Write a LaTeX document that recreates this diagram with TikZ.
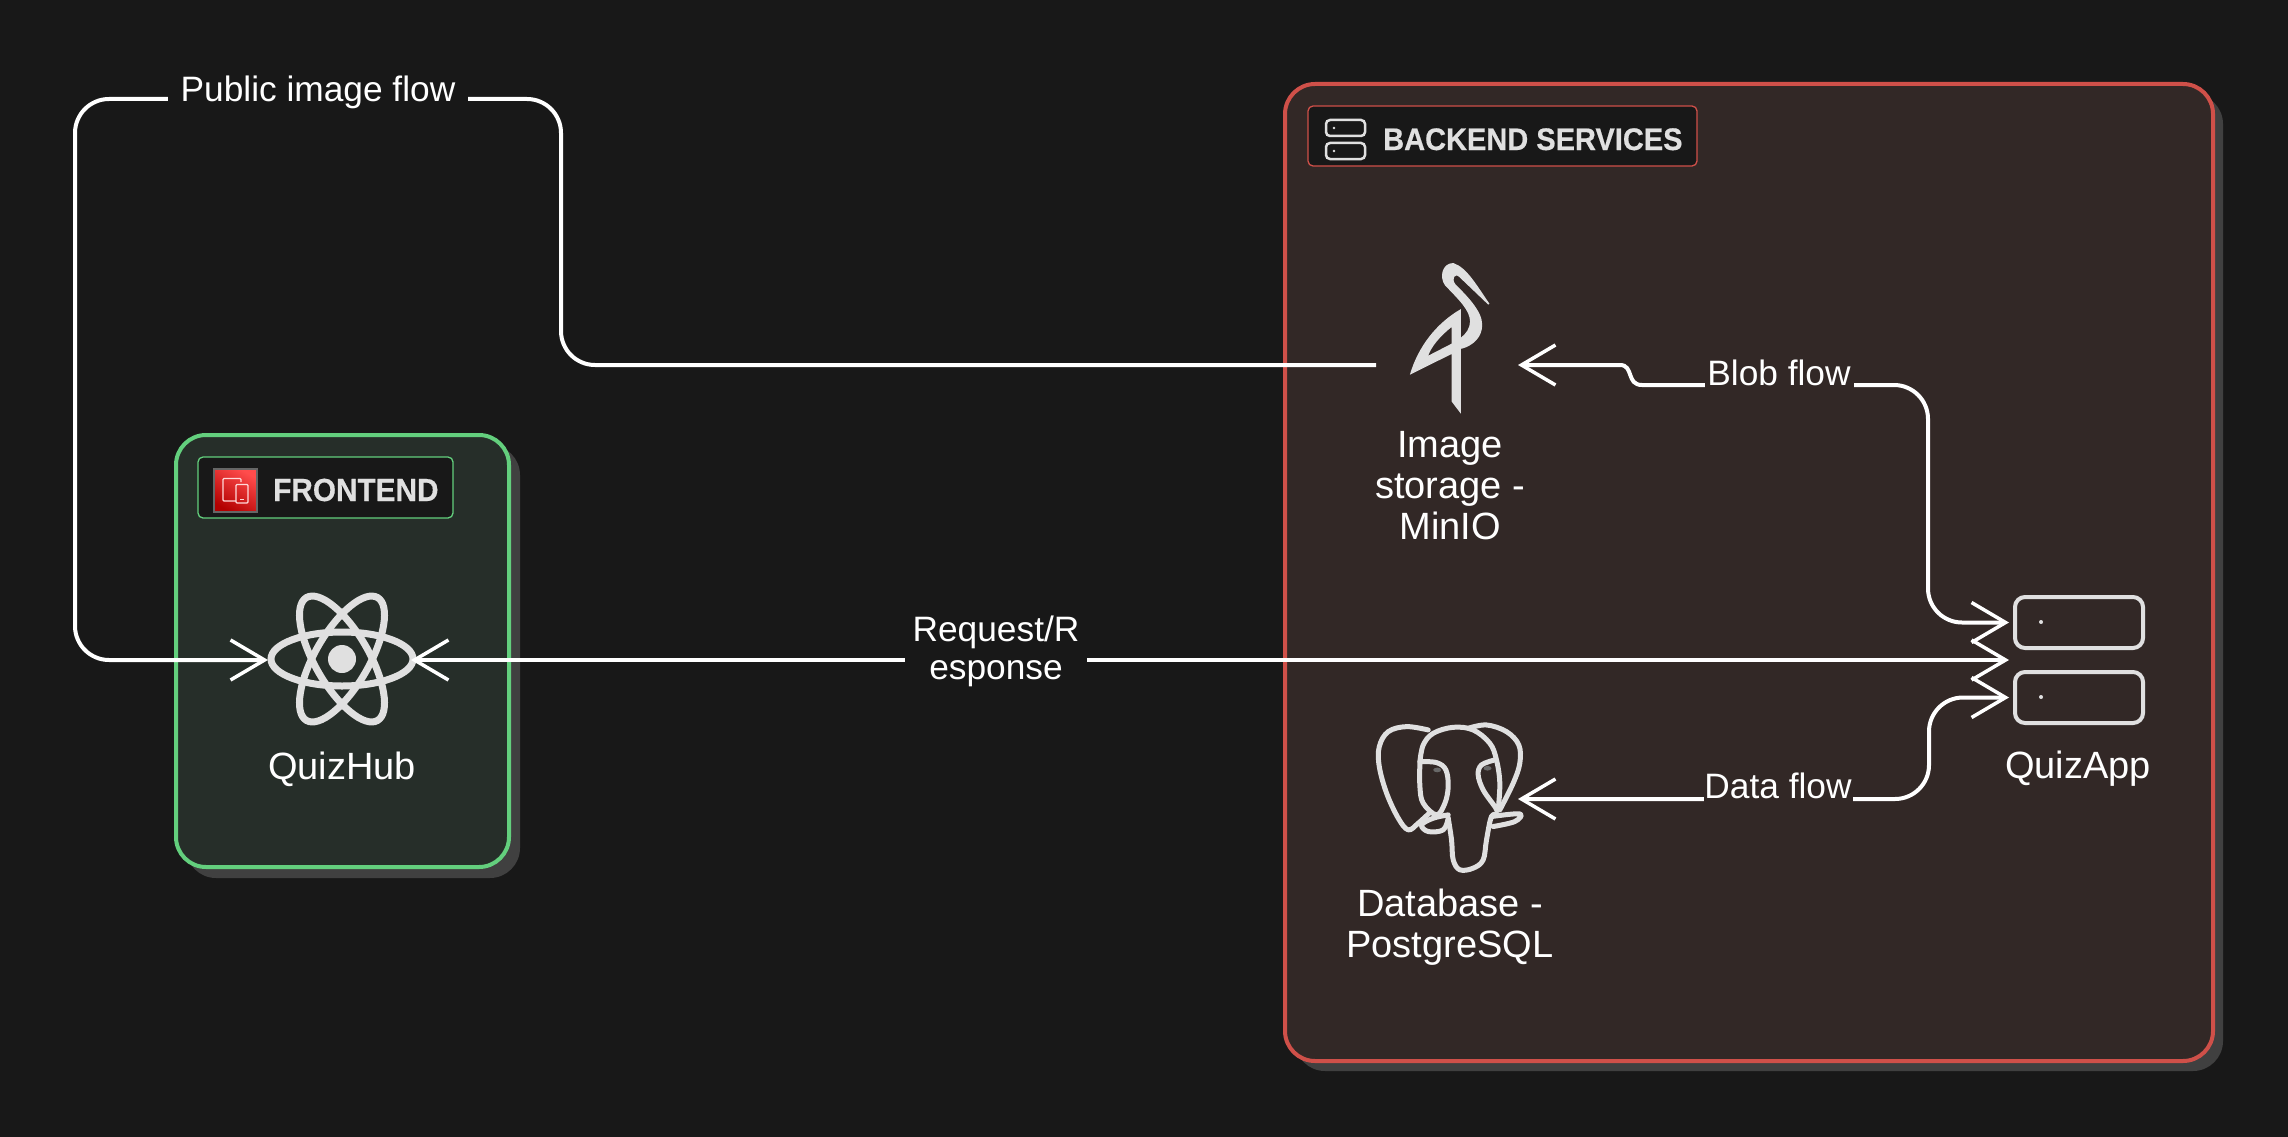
\documentclass[tikz,border=0pt]{standalone}
\usepackage{fontspec}
\setmainfont{Liberation Sans}[BoldFeatures={FakeBold=0.5,FakeStretch=0.93}]
\usetikzlibrary{arrows.meta,calc,shadings}
\definecolor{canvasbg}{HTML}{181818}
\definecolor{greenfill}{HTML}{262E29}
\definecolor{greenline}{HTML}{63CF7D}
\definecolor{redfill}{HTML}{322826}
\definecolor{redline}{HTML}{CF5049}
\definecolor{dropgray}{HTML}{404040}
\definecolor{iconcol}{HTML}{E0E0E0}
\newcommand{\bigtxt}{\fontsize{38}{41}\selectfont}
\newcommand{\flowtxt}{\fontsize{35.3}{38}\selectfont}
\tikzset{
  panel/.style={line width=4pt, rounded corners=30pt, inner sep=0pt, outer sep=0pt},
  dropbox/.style={fill=dropgray, rounded corners=30pt},
  tagbox/.style={fill=canvasbg, line width=1.3pt, rounded corners=5pt, inner sep=0pt, outer sep=0pt},
  tagtext/.style={text=iconcol, anchor=base west, inner sep=0pt},
  anchorbox/.style={inner sep=0pt, outer sep=0pt},
  iconline/.style={draw=iconcol, line width=7pt},
  thinicon/.style={draw=iconcol, line width=5pt, line join=round, line cap=round},
  server/.style={draw=iconcol, line width=4pt, rounded corners=10pt, inner sep=0pt, outer sep=0pt, minimum width=128pt, minimum height=51pt},
  smallserver/.style={draw=iconcol, line width=2.5pt, rounded corners=4pt, inner sep=0pt, minimum width=39pt, minimum height=16pt},
  caption/.style={text=white, align=center, font=\bigtxt, inner sep=0pt},
  flowlabel/.style={text=white, align=center, font=\flowtxt, inner sep=0pt},
  flow/.style={draw=white, line width=4pt, rounded corners=34pt,
    tips=proper, -{Straight Barb[length=34pt,width=40pt,line width=3.5pt]}},
  flowboth/.style={flow, {Straight Barb[length=34pt,width=40pt,line width=3.5pt]}-{Straight Barb[length=34pt,width=40pt,line width=3.5pt]}}
}

\begin{document}
\begin{tikzpicture}[x=1pt,y=-1pt]
\useasboundingbox (0,0) rectangle (2288,1137);
\fill[canvasbg] (0,0) rectangle (2288,1137);

% Draw panels with their shadows
\fill[dropbox] (186,445) rectangle (520,878);
\node[panel, draw=greenline, fill=greenfill, minimum width=333pt, minimum height=432pt] (frontpanel) at (342.5,651) {};
\fill[dropbox] (1295,94) rectangle (2223,1071);
\node[panel, draw=redline, fill=redfill, minimum width=928pt, minimum height=977pt] (backpanel) at (1749,572.5) {};

% Draw panel tags
\node[tagbox, draw=greenline, minimum width=255pt, minimum height=61pt] (fronttag) at (325.5,487.5) {};
\node[tagbox, draw=redline, minimum width=389pt, minimum height=60pt] (backtag) at (1502.5,136) {};
\node[tagtext, font=\bfseries\fontsize{32}{34}\selectfont] (fronttext) at (273,501) {FRONTEND};
\node[tagtext, font=\bfseries\fontsize{31.2}{33}\selectfont] (backtext) at (1383,150) {BACKEND SERVICES};

% Draw frontend tag icon
\node[draw=black!20!gray, line width=2pt, top color=red!70!white, bottom color=red!70!black, shading angle=-30, minimum width=43pt, minimum height=43pt, inner sep=0pt] (devicon) at (235.5,490.5) {};
\draw[white!85!red, line width=1.2pt, rounded corners=1pt] (241,482) -- (241,478.5) -- (223,478.5) -- (223,501) -- (236,501);
\draw[white!85!red, line width=1.2pt, rounded corners=1pt] (236,484.5) rectangle (248,503);
\draw[white!85!red, line width=1.2pt] (240,499.5) -- (244,499.5);

% Draw backend tag icon
\node[smallserver] (tagtop) at (1345.5,128) {};
\node[smallserver] (tagbot) at (1345.5,151) {};
\fill[iconcol] (1334,128) circle (1.3);
\fill[iconcol] (1334,151) circle (1.3);

% Draw react logo
\draw[iconline] (342,659) ellipse [x radius=71, y radius=27];
\draw[iconline] (342,659) ellipse [x radius=71, y radius=27, rotate=60];
\draw[iconline] (342,659) ellipse [x radius=71, y radius=27, rotate=120];
\fill[iconcol] (342,659) circle (14);
\node[anchorbox, minimum width=143pt, minimum height=133pt] (quizhub) at (339.5,660) {};
\node[caption] (hubtext) at (342,769) {QuizHub};

% Draw minio bird
\begin{scope}[shift={(1280,70)}, x=0.333pt, y=-0.333pt]
\filldraw[iconcol, line width=1.5pt, line join=bevel] (627,703) .. controls (590,650) and (560,595) .. (520,582) .. controls (490,582) and (480,620) .. (497,645)
  .. controls (540,690) and (572,720) .. (573,755) .. controls (573,775) and (560,795) .. (545,805)
  -- (545,835) .. controls (580,825) and (605,800) .. (605,765) .. controls (605,725) and (560,680) .. (525,645)
  .. controls (510,625) and (525,605) .. (540,620) -- cycle;
\fill[iconcol, even odd rule] (543,718) .. controls (470,760) and (415,830) .. (390,915) -- (515,853) -- (515,995) -- (543,1032) -- cycle
  (515,772) .. controls (480,800) and (455,830) .. (445,858) -- (515,822) -- cycle;
\end{scope}
\node[anchorbox, minimum width=146pt, minimum height=151pt] (minio) at (1449,339) {};
\coordinate (miniowest) at (1376,365);
\coordinate (minioeast) at (1518,365);
\node[caption] (miniotext) at (1450,486) {Image\\storage -\\MinIO};

% Draw postgres elephant
\begin{scope}[shift={(1320,690)}, x=0.333pt, y=-0.333pt]
\draw[thinicon] plot[smooth, tension=0.6] coordinates {(325,120) (260,110) (205,125) (178,170) (178,230) (200,310) (235,385) (265,420) (295,400) (330,368)};
\draw[thinicon] plot[smooth, tension=0.6] coordinates {(300,215) (310,165) (340,130) (400,112) (460,120) (510,160) (530,210) (540,280) (535,360)};
\draw[thinicon] plot[smooth, tension=0.6] coordinates {(445,115) (500,105) (560,125) (597,165) (600,220) (580,280) (540,360)};
\draw[thinicon] plot[smooth, tension=0.6] coordinates {(300,215) (350,218) (378,240) (385,290) (375,340) (350,375) (310,340) (300,290) (300,215)};
\draw[thinicon] plot[smooth, tension=0.6] coordinates {(525,210) (485,225) (475,255) (490,300) (525,350) (530,360)};
\draw[thinicon] plot[smooth, tension=0.6] coordinates {(385,385) (395,450) (400,510) (420,540) (460,535) (490,510) (500,450) (515,380) (535,375)};
\draw[thinicon] plot[smooth, tension=0.6] coordinates {(385,375) (340,385) (305,405) (325,425) (370,420) (385,385)};
\draw[thinicon] plot[smooth, tension=0.6] coordinates {(515,380) (600,372) (585,395) (520,410)};
\fill[canvasbg!60!iconcol] (352,240) ellipse [x radius=12, y radius=7];
\fill[canvasbg!60!iconcol] (503,235) ellipse [x radius=12, y radius=7];
\end{scope}
\node[anchorbox, minimum width=142pt, minimum height=150pt] (postgres) at (1447,799) {};
\node[caption] (pgtext) at (1450,927) {Database -\\PostgreSQL};

% Draw quizapp servers
\node[server] (apptop) at (2079,622.5) {};
\node[server] (appbot) at (2079,697.5) {};
\fill[iconcol] (2041,622) circle (2);
\fill[iconcol] (2041,697) circle (2);
\coordinate (appmid) at ($(apptop.west)!.5!(appbot.west)$);
\node[caption] (apptext) at (2078,769) {QuizApp};

% Draw connectors
\draw[flow] (miniowest) -- (561,365) -- (561,99) -- (75,99) -- (75,660) -- (quizhub.west);
\draw[flowboth, shorten >=6pt] (quizhub.east) -- (appmid);
\draw[flowboth, sharp corners, shorten >=6pt] (minioeast) -- (1620,365) .. controls (1634,365) and (1626,385) .. (1642,385) -- (1700,385)
  [rounded corners=34pt] -- (1928,385) -- (1928,622.5) -- (apptop.west);
\draw[flowboth, shorten >=6pt] (postgres.east) -- (1929,799) -- (1929,697.5) -- (appbot.west);

% Labels sit on top of the connectors
\node[flowlabel, fill=canvasbg, minimum width=300pt, minimum height=44pt] (publabel) at (318,92) {Public image flow};
\node[flowlabel, fill=canvasbg, minimum width=182pt, minimum height=80pt] (reqlabel) at (996,651) {Request/R\\esponse};
\node[flowlabel, fill=redfill, minimum width=149pt, minimum height=40pt] (bloblabel) at (1779,373) {Blob flow};
\node[flowlabel, fill=redfill, minimum width=149pt, minimum height=40pt] (datalabel) at (1778,786) {Data flow};
\end{tikzpicture}
\end{document}
